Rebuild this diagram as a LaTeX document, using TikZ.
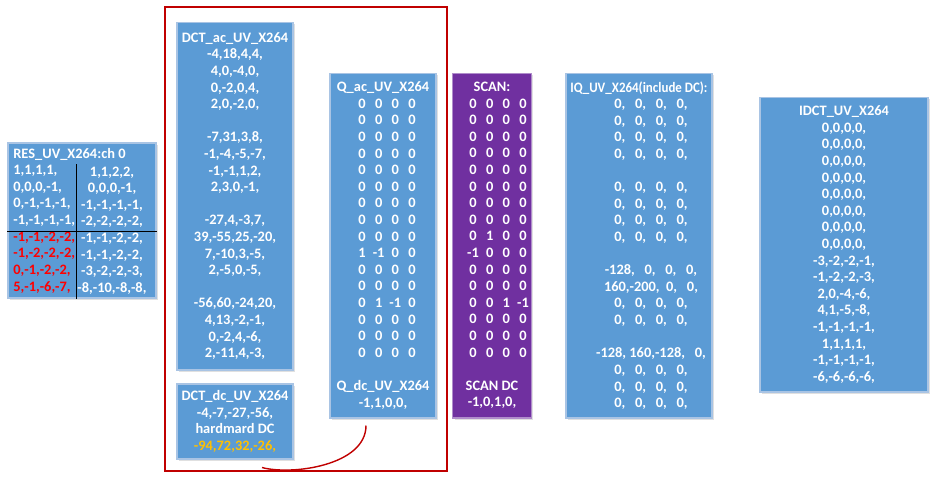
\documentclass[tikz,border=0pt]{standalone}
\usepackage{fontspec}
\setmainfont{Carlito}
\usetikzlibrary{positioning,calc}
\definecolor{cBlue}{HTML}{5B9BD5}
\definecolor{cPurple}{HTML}{7030A0}
\definecolor{cEdge}{HTML}{A9C4E4}
\definecolor{cRed}{HTML}{FF0000}
\definecolor{cGold}{HTML}{FFC000}
\definecolor{cFrame}{HTML}{C00000}
\newlength\cellw
\setlength\cellw{0.333cm}
\newlength\mshift
\newcommand\sh{\hspace*{\mshift}}
\newcommand\mrow[4]{\sh\makebox[\cellw]{#1}\makebox[\cellw]{#2}\makebox[\cellw]{#3}\makebox[\cellw]{#4}}
\newcommand\zrow{\mrow{0}{0}{0}{0}}
\newcommand\iqz{\sh 0,\ \ \ 0,\ \ \ 0,\ \ \ 0,}
\tikzset{
  blk/.style={rectangle,draw=cEdge,line width=0.6pt,fill=cBlue,text=white,align=center,inner sep=0pt,
    preaction={fill=black!12,transform canvas={shift={(1.2pt,-1.2pt)}}},
    font=\bfseries\fontsize{8.2}{9.45}\selectfont},
  blkp/.style={blk,fill=cPurple,draw=cPurple!55!white},
  txt/.style={text=white,inner sep=0pt,font=\bfseries\fontsize{8.2}{9.45}\selectfont},
  rowsh/.style={execute at begin node={\global\mshift=#1}},
  frm/.style={draw=cFrame,line width=0.6pt},
  sep/.style={draw=black,line width=0.5pt},
  link/.style={draw=cFrame,line width=0.8pt},
}

\begin{document}
\begin{tikzpicture}[x=0.02cm,y=-0.02cm]
  \useasboundingbox (0,0) rectangle (938,485);
  % residual block
  \node[blk,minimum width=2.96cm,minimum height=3.1cm] (res) at (82,220.5) {};
  \node[txt,align=left,anchor=west] (resl) at (13,220.5) {RES\_UV\_X264:ch 0\\
    1,1,1,1,\\0,0,0,-1,\\0,-1,-1,-1,\\-1,-1,-1,-1,\\
    \textcolor{cRed}{-1,-1,-2,-2,}\\\textcolor{cRed}{-1,-2,-2,-2,}\\
    \textcolor{cRed}{0,-1,-2,-2,}\\\textcolor{cRed}{5,-1,-6,-7,}};
  \node[txt,align=center] (resr) at (112,230.5) {1,1,2,2,\\0,0,0,-1,\\-1,-1,-1,-1,\\-2,-2,-2,-2,\\
    -1,-1,-2,-2,\\-1,-1,-2,-2,\\-3,-2,-2,-3,\\-8,-10,-8,-8,};
  \coordinate (rh) at (82,231);
  \coordinate (rv) at (76,164);
  \draw[sep] (res.west |- rh) -- (res.east |- rh);
  \draw[sep] (rv) -- (rv |- res.south);
  % transform stage
  \draw[frm] (165,7) rectangle (447,471);
  \node[blk,minimum width=2.32cm,minimum height=6.96cm] (dctac) at (235,196) {DCT\_ac\_UV\_X264\\
    -4,18,4,4,\\4,0,-4,0,\\0,-2,0,4,\\2,0,-2,0,\\~\\
    -7,31,3,8,\\-1,-4,-5,-7,\\-1,-1,1,2,\\2,3,0,-1,\\~\\
    -27,4,-3,7,\\39,-55,25,-20,\\7,-10,3,-5,\\2,-5,0,-5,\\~\\
    -56,60,-24,20,\\4,13,-2,-1,\\0,-2,4,-6,\\2,-11,4,-3,};
  \node[blk,minimum width=2.32cm,minimum height=1.5cm] (dctdc) at (235,421.5) {DCT\_dc\_UV\_X264\\
    -4,-7,-27,-56,\\hardmard DC\\\textcolor{cGold}{-94,72,32,-26,}};
  \node[blk,rowsh=0.16cm,minimum width=2.12cm,minimum height=6.9cm] (qac) at (383,245.5) {Q\_ac\_UV\_X264\\
    \zrow\\\zrow\\\zrow\\\zrow\\\zrow\\\zrow\\\zrow\\\zrow\\\zrow\\
    \mrow{1}{-1}{0}{0}\\\zrow\\\zrow\\\mrow{0}{1}{-1}{0}\\\zrow\\\zrow\\\zrow\\~\\
    Q\_dc\_UV\_X264\\-1,1,0,0,};
  % scan and inverse
  \node[blkp,rowsh=0.24cm,minimum width=1.56cm,minimum height=6.9cm] (scan) at (492,245.5) {SCAN:\\
    \zrow\\\zrow\\\zrow\\\zrow\\\zrow\\\zrow\\\zrow\\\zrow\\\mrow{0}{1}{0}{0}\\
    \mrow{-1}{0}{0}{0}\\\zrow\\\zrow\\\mrow{0}{0}{1}{-1}\\\zrow\\\zrow\\\zrow\\~\\
    SCAN DC\\-1,0,1,0,};
  \node[blk,rowsh=0.48cm,minimum width=2.92cm,minimum height=6.9cm] (iq) at (639,245.5) {\scalebox{0.9}[1]{IQ\_UV\_X264(include DC):}\\
    \iqz\\\iqz\\\iqz\\\iqz\\~\\\iqz\\\iqz\\\iqz\\\iqz\\~\\
    \sh -128,\ \ \ 0,\ \ \ 0,\ \ \ 0,\\\sh 160,-200,\ \ 0,\ \ \ 0,\\\iqz\\\iqz\\~\\
    \sh -128, 160,-128,\ \ \ 0,\\\iqz\\\iqz\\\iqz};
  \node[blk,minimum width=3.36cm,minimum height=5.9cm] (idct) at (844,244.5) {IDCT\_UV\_X264\\
    0,0,0,0,\\0,0,0,0,\\0,0,0,0,\\0,0,0,0,\\0,0,0,0,\\0,0,0,0,\\0,0,0,0,\\0,0,0,0,\\
    -3,-2,-2,-1,\\-1,-2,-2,-3,\\2,0,-4,-6,\\4,1,-5,-8,\\
    -1,-1,-1,-1,\\1,1,1,1,\\-1,-1,-1,-1,\\-6,-6,-6,-6,};
  % dc link
  \coordinate (lk1) at ($(dctdc.south)+(27,8)$);
  \coordinate (lk2) at ($(qac.south)+(-17,7)$);
  \draw[link] (lk1) .. controls +(30,8) and +(0,40) .. (lk2);
\end{tikzpicture}
\end{document}
